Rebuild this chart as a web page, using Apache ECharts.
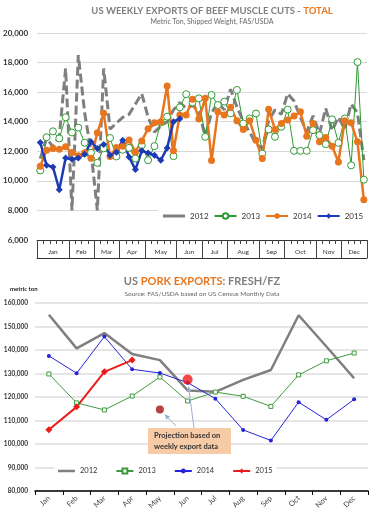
<!DOCTYPE html>
<html>
<head>
<meta charset="utf-8">
<title>US beef and pork exports</title>
<script src="https://cdn.jsdelivr.net/npm/echarts@6/dist/echarts.min.js"></script>
<style>
  html, body { margin: 0; padding: 0; width: 100%; height: 100%; overflow: hidden; background: #fff; }
  #main { width: 377px; height: 525px; }
</style>
</head>
<body>
<div id="main"></div>
<script>
// ---- beef, weekly (metric ton) ----
var months = ['Jan', 'Feb', 'Mar', 'Apr', 'May', 'Jun', 'Jul', 'Aug', 'Sep', 'Oct', 'Nov', 'Dec'];
var weeksPerMonth = [5, 4, 4, 4, 5, 4, 4, 5, 4, 5, 4, 4];

var beef2012 = [11500, 12900, 12300, 13000, 17600, 8000, 18500, 14600, 12000, 8000,
  17600, 13500, 13900, 14300, 14500, 15200, 15900, 14300, 13300, 13700,
  14000, 14800, 15300, 14900, 15100, 14700, 13000, 14600, 15300, 14800,
  16200, 15000, 14000, 13300, 12500, 12200, 14100, 14800, 14500, 15900,
  15400, 14300, 13300, 14400, 13200, 14900, 13400, 14300, 13500, 15200,
  14600, 11400];
var beef2013 = [10700, 12950, 13350, 12870, 14300, 13270, 13600, 12580, 11900, 11220,
  12200, 12900, 11650, 12100, 12230, 11510, 12420, 11400, 12350, 13950,
  14340, 11670, 14970, 15860, 15300, 15580, 12980, 15810, 15130, 15360,
  14560, 16150, 13880, 14220, 14560, 11850, 13480, 12980, 13660, 14820,
  12030, 12030, 12030, 13430, 13090, 12480, 14160, 12570, 14220, 11050,
  18030, 10080];
var beef2014 = [10990, 12070, 12190, 12140, 12300, 11910, 11700, 11900, 11530, 13250,
  14570, 11650, 12260, 12340, 12760, 11960, 12700, 13530, 13930, 14000,
  16420, 12030, 14450, 14450, 15520, 14180, 15580, 11380, 14680, 14450,
  14970, 14070, 13480, 14070, 12750, 11510, 14840, 13480, 13880, 14110,
  14380, 14680, 13020, 13880, 12640, 12930, 12340, 11280, 14070, 13930,
  12640, 8720];
var beef2015 = [12600, 11050, 10940, 9400, 11550, 11460, 11550, 11800, 12640, 12190,
  12460, 11730, 11930, 12750, 11620, 10760, 12030, 11890, 11730, 11390,
  12230, 14000, 14200];

// ---- pork, monthly (metric ton) ----
var pork2012 = [155000, 140700, 147200, 138300, 135700, 122800, 122200, 127300, 131500, 154800, 141500, 128000];
var pork2013 = [129800, 117500, 114500, 120400, 128500, 118300, 122100, 120300, 116000, 129400, 135400, 138700];
var pork2014 = [137500, 130100, 145700, 131800, 130200, 126100, 119300, 106000, 101500, 117800, 110300, 119000];
var pork2015 = [106100, 115800, 130700, 135700];
var projMonths = ['May', 'Jun'];
var projValues = [114700, 127400];

// week categories and month layout of the beef axis
var weeks = [], monthStart = {}, monthMid = {};
var w = 0;
weeksPerMonth.forEach(function (n, m) {
  monthStart[w] = true;
  monthMid[w + Math.floor((n - 1) / 2)] = m;
  for (var k = 0; k < n; k++) { weeks.push(months[m] + ' w' + (k + 1)); }
  w += n;
});

var FONT = 'Lato, "Open Sans", sans-serif';
var GRAY = '#7f7f7f', ORANGE = '#E8761E';
var fmt = function (v) { return v.toLocaleString('en-US'); };

var chart = echarts.init(document.getElementById('main'));
chart.setOption({
  animation: false,
  textStyle: { fontFamily: FONT },
  grid: [
    { left: 37, right: 10, top: 33, height: 207 },
    { left: 35, right: 9, top: 303, height: 188 }
  ],
  xAxis: [
    { gridIndex: 0, type: 'category', data: weeks, position: 'bottom', boundaryGap: true,
      axisLine: { show: true, onZero: false, lineStyle: { color: '#333', width: 1 } },
      axisTick: { show: true, interval: 0, length: 4, lineStyle: { color: '#444' } },
      axisLabel: { show: false }, splitLine: { show: false } },
    { gridIndex: 0, type: 'category', data: weeks, position: 'bottom', boundaryGap: true,
      axisLine: { show: false },
      axisTick: { show: true, interval: function (i) { return !!monthStart[i]; }, length: 18, lineStyle: { color: '#444' } },
      axisLabel: {
        show: true,
        interval: function (i) { return monthMid[i] !== undefined; },
        formatter: function (v, i) {
          var m = monthMid[i];
          return weeksPerMonth[m] === 4 ? '{p|' + months[m] + '}' : '{n|' + months[m] + '}';
        },
        margin: 8,
        rich: {
          n: { fontSize: 6.5, color: '#333', fontFamily: FONT },
          p: { fontSize: 6.5, color: '#333', fontFamily: FONT, padding: [0, 0, 0, 6] }
        }
      } },
    { gridIndex: 0, type: 'category', data: weeks, position: 'bottom', offset: 18,
      axisLine: { show: true, onZero: false, lineStyle: { color: '#333', width: 1 } },
      axisTick: { show: false }, axisLabel: { show: false } },
    { gridIndex: 1, type: 'category', data: months, boundaryGap: true,
      axisLine: { show: true, lineStyle: { color: '#000', width: 1.5 } },
      axisTick: { show: true, length: 4, lineStyle: { color: '#000' } },
      axisLabel: { rotate: 45, fontSize: 7.5, color: '#444', margin: 6 } }
  ],
  yAxis: [
    { gridIndex: 0, type: 'value', min: 6000, max: 20000, interval: 2000,
      axisLine: { show: false }, axisTick: { show: false },
      axisLabel: { formatter: fmt, fontSize: 8, fontWeight: 'bold', color: '#333', margin: 9 },
      splitLine: { lineStyle: { color: '#d9d9d9' } } },
    { gridIndex: 1, type: 'value', min: 80000, max: 160000, interval: 10000,
      axisLine: { show: false }, axisTick: { show: false },
      axisLabel: { formatter: fmt, fontSize: 6.5, fontWeight: 'bold', color: '#333', margin: 7 },
      splitLine: { lineStyle: { color: '#dcdcdc', width: 1.5 } } }
  ],
  legend: [
    { left: 158, top: 208, width: 219, padding: [4, 5], backgroundColor: '#fff',
      itemWidth: 22, itemHeight: 7, itemGap: 5,
      textStyle: { fontSize: 8, color: '#333' },
      data: [{ name: '2012', icon: 'path://M0,0H22V3H0Z' }, '2013', '2014', '2015'] },
    { left: 54, top: 464, padding: [3, 4], backgroundColor: '#fff',
      itemWidth: 17, itemHeight: 6, itemGap: 18,
      textStyle: { fontSize: 7.5, color: '#333' },
      formatter: function (n) { return n.slice(1); },
      data: [{ name: 'p2012', icon: 'path://M0,0H17V2.5H0Z' }, 'p2013', 'p2014', 'p2015'] }
  ],
  series: [
    { name: '2012', type: 'line', xAxisIndex: 0, yAxisIndex: 0, data: beef2012, symbol: 'none',
      color: GRAY, lineStyle: { color: GRAY, width: 3, type: [9, 4], cap: 'butt' } },
    { name: '2013', type: 'line', xAxisIndex: 0, yAxisIndex: 0, data: beef2013,
      symbol: 'circle', symbolSize: 7, showAllSymbol: true, color: '#2f9a35',
      lineStyle: { color: '#2f9a35', width: 1 },
      itemStyle: { color: '#fff', borderColor: '#2f9a35', borderWidth: 1 } },
    { name: '2014', type: 'line', xAxisIndex: 0, yAxisIndex: 0, data: beef2014,
      symbol: 'circle', symbolSize: 7, showAllSymbol: true, color: ORANGE,
      lineStyle: { color: ORANGE, width: 2.5 }, itemStyle: { color: ORANGE } },
    { name: '2015', type: 'line', xAxisIndex: 0, yAxisIndex: 0, data: beef2015,
      symbol: 'diamond', symbolSize: 7, showAllSymbol: true, color: '#1d3bb5',
      lineStyle: { color: '#1d3bb5', width: 2.5 }, itemStyle: { color: '#1d3bb5' } },

    { name: 'p2012', type: 'line', xAxisIndex: 3, yAxisIndex: 1, data: pork2012, symbol: 'none',
      color: GRAY, lineStyle: { color: GRAY, width: 2.5 } },
    { name: 'p2013', type: 'line', xAxisIndex: 3, yAxisIndex: 1, data: pork2013,
      symbol: 'rect', symbolSize: 4, color: '#3f9a3f',
      lineStyle: { color: '#3f9a3f', width: 1 },
      itemStyle: { color: '#fff', borderColor: '#3f9a3f', borderWidth: 1 } },
    { name: 'p2014', type: 'line', xAxisIndex: 3, yAxisIndex: 1, data: pork2014,
      symbol: 'circle', symbolSize: 4, color: '#2424d8',
      lineStyle: { color: '#2424d8', width: 1 }, itemStyle: { color: '#2424d8' } },
    { name: 'p2015', type: 'line', xAxisIndex: 3, yAxisIndex: 1, data: pork2015,
      symbol: 'diamond', symbolSize: 7, color: '#ec1c1c',
      lineStyle: { color: '#ec1c1c', width: 2 }, itemStyle: { color: '#ec1c1c' } },
    { name: 'projection', type: 'scatter', xAxisIndex: 3, yAxisIndex: 1, z: 5,
      data: projMonths.map(function (m, i) { return [m, projValues[i]]; }),
      symbolSize: function (v, p) { return p.dataIndex === 0 ? 8 : 10; },
      itemStyle: { color: function (p) { return p.dataIndex === 0 ? '#a51212' : '#ee1a1a'; } } }
  ],
  graphic: [
    { id: 't1', type: 'text', x: 212, y: 11, style: {
      text: '{g|US WEEKLY EXPORTS OF BEEF MUSCLE CUTS - }{o|TOTAL}', align: 'center', verticalAlign: 'middle',
      rich: { g: { fontSize: 9.5, fontWeight: 'bold', fill: GRAY, fontFamily: FONT },
              o: { fontSize: 9.5, fontWeight: 'bold', fill: ORANGE, fontFamily: FONT } } } },
    { id: 't1s', type: 'text', x: 212, y: 22, style: {
      text: 'Metric Ton, Shipped Weight, FAS/USDA', align: 'center', verticalAlign: 'middle',
      fontSize: 7, fill: '#666', fontFamily: FONT } },
    { id: 't2', type: 'text', x: 202, y: 281, style: {
      text: '{g|US }{o|PORK EXPORTS}{g|: FRESH/FZ}', align: 'center', verticalAlign: 'middle',
      rich: { g: { fontSize: 11, fontWeight: 'bold', fill: GRAY, fontFamily: FONT },
              o: { fontSize: 11, fontWeight: 'bold', fill: ORANGE, fontFamily: FONT } } } },
    { id: 't2s', type: 'text', x: 202, y: 294, style: {
      text: 'Source: FAS/USDA based on US Census Monthly Data', align: 'center', verticalAlign: 'middle',
      fontSize: 6.5, fill: '#666', fontFamily: FONT } },
    { id: 'unit', type: 'text', x: 10, y: 289, style: {
      text: 'metric ton', verticalAlign: 'middle', fontSize: 6, fontWeight: 'bold', fill: '#222', fontFamily: FONT } },
    { id: 'box', type: 'rect', shape: { x: 148, y: 428, width: 83, height: 26 }, style: { fill: '#F8CBA7' }, z: 10 },
    { id: 'boxt', type: 'text', x: 154, y: 441, z: 11, style: {
      text: 'Projection based on\nweekly export data', verticalAlign: 'middle', lineHeight: 11,
      fontSize: 7.5, fontWeight: 'bold', fill: '#333', fontFamily: FONT } }
  ]
});

// arrows from the note to the projected points
var starts = [[176, 426], [194, 428]];
var arrows = [];
projMonths.forEach(function (m, i) {
  var p = chart.convertToPixel({ seriesIndex: 8 }, [m, projValues[i]]);
  var s = starts[i];
  var dx = s[0] - p[0], dy = s[1] - p[1], len = Math.sqrt(dx * dx + dy * dy);
  var ux = dx / len, uy = dy / len;
  var ex = p[0] + ux * 7, ey = p[1] + uy * 7;
  var px = -uy, py = ux;
  arrows.push({ id: 'al' + i, type: 'line', z: 9, shape: { x1: s[0], y1: s[1], x2: ex, y2: ey },
    style: { stroke: '#9aaecb', lineWidth: 1 } });
  arrows.push({ id: 'ah' + i, type: 'polygon', z: 9, shape: { points: [
    [ex, ey], [ex + ux * 5 + px * 2.5, ey + uy * 5 + py * 2.5], [ex + ux * 5 - px * 2.5, ey + uy * 5 - py * 2.5]] },
    style: { fill: '#9aaecb' } });
});
chart.setOption({ graphic: arrows });
</script>
</body>
</html>
